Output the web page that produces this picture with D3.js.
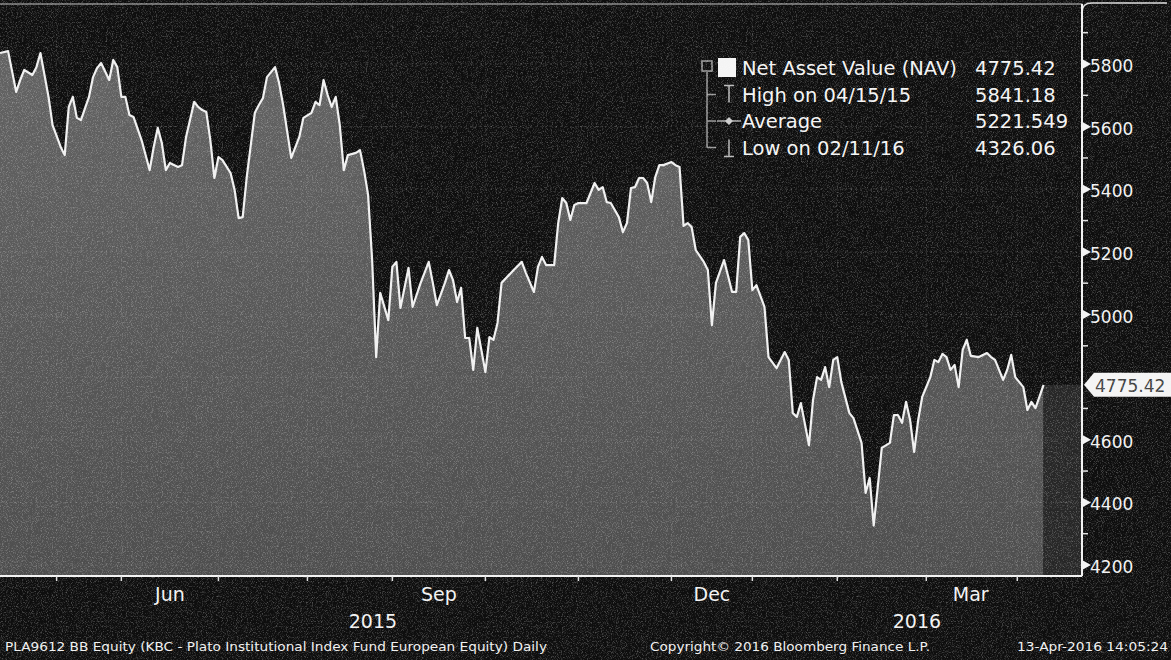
<!DOCTYPE html>
<html><head><meta charset="utf-8">
<script src="https://cdn.jsdelivr.net/npm/d3@7"></script>
<style>
html,body{margin:0;padding:0;background:#101010;}
svg{display:block;}
text{font-family:"DejaVu Sans",sans-serif;}
</style></head><body>
<svg id="c" width="1171" height="660"></svg>
<script>
// ---- data (trading-day index from 13-Apr-2015, NAV) ----
const days = [0,2,4,5,6,8,9,10,12,13,15,16,17,18,19,20,22,23,24,25,27,28,29,30,31,32,33,35,37,38,39,40,41,42,44,45,46,48,49,50,51,52,53,54,55,57,58,59,60,61,63,64,65,66,67,68,69,70,72,74,75,77,78,79,80,81,82,83,84,85,86,88,89,90,91,92,93,94,96,97,98,99,101,102,104,106,107,108,110,111,112,113,114,115,116,117,118,119,120,121,122,123,124,127,129,130,132,133,134,135,137,138,139,140,141,142,143,145,146,147,148,149,150,151,153,154,155,156,157,158,159,160,161,162,163,164,166,167,168,169,170,171,172,174,175,176,177,179,181,182,183,184,185,186,187,189,190,192,194,195,196,197,198,200,201,202,203,204,205,206,207,208,210,211,213,214,215,216,217,218,220,221,222,223,224,225,226,227,228,230,231,232,233,234,235,236,237,238,239,240,242,244,245,246,248,249,250,251,253,254,255,256,258];
const nav = [5835,5841.18,5711,5749,5781,5765,5790,5835,5695,5605,5535,5509,5663,5695,5628,5621,5695,5758,5787,5803,5749,5813,5790,5695,5695,5637,5631,5557,5461,5535,5596,5548,5461,5484,5471,5477,5567,5679,5663,5653,5647,5557,5436,5503,5493,5452,5398,5308,5311,5439,5644,5669,5691,5758,5774,5790,5739,5669,5500,5567,5628,5644,5679,5669,5749,5701,5663,5695,5605,5461,5509,5516,5525,5461,5382,5174,4864,5069,4982,5152,5168,5021,5149,5024,5101,5168,5101,5030,5101,5142,5110,5040,5085,4925,4925,4823,4957,4887,4816,4928,4919,4973,5101,5142,5168,5133,5072,5152,5184,5158,5158,5292,5372,5356,5302,5350,5356,5356,5388,5420,5398,5407,5359,5356,5311,5263,5292,5404,5407,5436,5436,5420,5359,5439,5477,5477,5487,5477,5471,5283,5292,5279,5206,5168,5142,4966,5101,5174,5072,5072,5248,5260,5238,5078,5094,5024,4864,4829,4880,4855,4685,4673,4717,4583,4727,4800,4791,4832,4768,4855,4864,4784,4685,4669,4590,4430,4478,4326.06,4449,4574,4590,4679,4679,4654,4721,4663,4561,4663,4737,4800,4855,4848,4874,4864,4823,4839,4768,4887,4919,4868,4864,4877,4864,4855,4791,4823,4871,4800,4768,4695,4721,4701,4775.42];
const monthTickDays = [14,30,54,76,97,120,143,166,186,207,229,251.5];
const monthLabels = ["Jun","Sep","Dec","Mar"];
const monthLabelDays = [42,108.5,176,240];
const yearLabels = ["2015","2016"];
const yearLabelDays = [92.2,226.7];
const yMajorTicks = [4200,4400,4600,4800,5000,5200,5400,5600,5800];
const yLabelTicks = [4200,4400,4600,5000,5200,5400,5600,5800];
const yMinorTicks = [4300,4500,4700,4900,5100,5300,5500,5700,5900];
const legendLabels = ["Net Asset Value (NAV)","High on 04/15/15","Average","Low on 02/11/16"];
const legendValues = ["4775.42","5841.18","5221.549","4326.06"];
const lastLabel = "4775.42";
const footerLeft = "PLA9612 BB Equity (KBC - Plato Institutional Index Fund European Equity)  Daily";
const footerMid = "Copyright\u00A9 2016 Bloomberg Finance L.P.";
const footerRight = "13-Apr-2016 14:05:24";

// ---- layout ----
const W=1171,H=660, plotL=0, plotR=1082, plotT=4, plotB=576;
const svg=d3.select("#c");
const x=d3.scaleLinear().domain([0,267.5]).range([plotL,plotR]);
const y=d3.scaleLinear().domain([4200,5800]).range([565,64]);
const data=days.map((d,i)=>({d,v:nav[i]}));

const defs=svg.append("defs");
const g=defs.append("linearGradient").attr("id","fillg").attr("gradientUnits","userSpaceOnUse")
  .attr("x1",0).attr("y1",50).attr("x2",0).attr("y2",plotB);
g.append("stop").attr("offset","0").attr("stop-color","#636363");
g.append("stop").attr("offset","1").attr("stop-color","#4e4e4e");
const f=defs.append("filter").attr("id","grain").attr("x",0).attr("y",0).attr("width","100%").attr("height","100%");
f.append("feTurbulence").attr("type","fractalNoise").attr("baseFrequency","1.2").attr("numOctaves","1").attr("seed","3").attr("result","n");
f.append("feColorMatrix").attr("type","matrix").attr("values","0 0 0 0 1  0 0 0 0 1  0 0 0 0 1  3 0 0 0 -1.45");

svg.append("rect").attr("width",W).attr("height",H).attr("fill","#0e0e0e");

// area
const area=d3.area().x(d=>x(d.d)).y0(plotB).y1(d=>y(d.v)).curve(d3.curveLinear);
svg.append("path").datum(data).attr("d",area).attr("fill","url(#fillg)");
// region after last point
const last=data[data.length-1];
svg.append("rect").attr("x",x(last.d)).attr("y",y(last.v)).attr("width",plotR-x(last.d)).attr("height",plotB-y(last.v)).attr("fill","#272727");

// grid
svg.append("g").selectAll("line").data(yMajorTicks).join("line")
  .attr("x1",plotL).attr("x2",plotR).attr("y1",d=>y(d)).attr("y2",d=>y(d))
  .attr("stroke","#9a9a9a").attr("stroke-opacity",0.25).attr("stroke-dasharray","2,3");
svg.append("g").selectAll("line").data(monthTickDays).join("line")
  .attr("x1",d=>x(d)).attr("x2",d=>x(d)).attr("y1",plotT).attr("y2",plotB)
  .attr("stroke","#9a9a9a").attr("stroke-opacity",0.18).attr("stroke-dasharray","2,3");

// line
const line=d3.line().x(d=>x(d.d)).y(d=>y(d.v));
svg.append("path").datum(data).attr("d",line).attr("fill","none").attr("stroke","#f0f0f0").attr("stroke-width",2.2).attr("stroke-linejoin","round");

// top border
svg.append("line").attr("x1",0).attr("x2",plotR).attr("y1",plotT).attr("y2",plotT).attr("stroke","#8a8a8a").attr("stroke-width",1.5);
svg.append("path").attr("d",`M${plotR},${plotT+8} Q${plotR},${plotT-1} ${plotR+10},${plotT-1} L${W-4},${plotT-1}`).attr("fill","none").attr("stroke","#dddddd").attr("stroke-width",1.5);

// y axis
const ya=svg.append("g");
ya.append("line").attr("x1",plotR).attr("x2",plotR).attr("y1",plotT).attr("y2",plotB).attr("stroke","#f2f2f2").attr("stroke-width",2);
ya.selectAll("path.tri").data(yLabelTicks).join("path").attr("class","tri")
  .attr("d",d=>`M${plotR},${y(d)-5} L${plotR+9},${y(d)} L${plotR},${y(d)+5}Z`).attr("fill","#f2f2f2");
ya.selectAll("line.mn").data(yMinorTicks).join("line").attr("class","mn")
  .attr("x1",plotR).attr("x2",plotR+6).attr("y1",d=>y(d)).attr("y2",d=>y(d)).attr("stroke","#e0e0e0").attr("stroke-width",1.5);
ya.selectAll("text").data(yLabelTicks).join("text")
  .attr("x",plotR+8).attr("y",d=>y(d)+2).attr("dy","0.36em").attr("fill","#f2f2f2")
  .attr("font-size",17).text(d=>d);
// last value tag
const ly=y(last.v);
ya.append("path").attr("d",`M${plotR+2},${ly} L${plotR+12},${ly-12} L${W},${ly-12} L${W},${ly+12} L${plotR+12},${ly+12}Z`).attr("fill","#f4f4f4");
ya.append("text").attr("x",plotR+13).attr("y",ly+1).attr("dy","0.36em").attr("fill","#404040").attr("font-size",17).text(lastLabel);

// x axis
const xa=svg.append("g");
xa.append("line").attr("x1",0).attr("x2",plotR).attr("y1",plotB).attr("y2",plotB).attr("stroke","#f2f2f2").attr("stroke-width",2);
xa.selectAll("line.t").data(monthTickDays).join("line").attr("class","t")
  .attr("x1",d=>x(d)).attr("x2",d=>x(d)).attr("y1",plotB).attr("y2",plotB+5).attr("stroke","#dddddd").attr("stroke-width",1.5);
xa.selectAll("text.m").data(monthLabels).join("text").attr("class","m")
  .attr("x",(d,i)=>x(monthLabelDays[i])).attr("y",601).attr("text-anchor","middle").attr("fill","#f2f2f2").attr("font-size",19).text(d=>d);
xa.selectAll("text.yr").data(yearLabels).join("text").attr("class","yr")
  .attr("x",(d,i)=>x(yearLabelDays[i])).attr("y",628).attr("text-anchor","middle").attr("fill","#f2f2f2").attr("font-size",19).text(d=>d);

// legend
const lg=svg.append("g");
const rowY=[68,94.5,121,147.5];
lg.append("line").attr("x1",707).attr("x2",707).attr("y1",72).attr("y2",rowY[3]).attr("stroke","#9a9a9a").attr("stroke-width",1.5);
lg.append("rect").attr("x",702).attr("y",61).attr("width",10).attr("height",10).attr("fill","none").attr("stroke","#9a9a9a").attr("stroke-width",1.5);
lg.selectAll("line.br").data(rowY.slice(1)).join("line").attr("class","br")
  .attr("x1",707).attr("x2",716).attr("y1",d=>d).attr("y2",d=>d).attr("stroke","#9a9a9a").attr("stroke-width",1.5);
lg.append("rect").attr("x",718).attr("y",rowY[0]-10).attr("width",18).attr("height",19).attr("fill","#f4f4f4");
lg.append("path").attr("d",`M724,${rowY[1]-9} L734,${rowY[1]-9} M729,${rowY[1]-9} L729,${rowY[1]+8}`).attr("stroke","#bbbbbb").attr("stroke-width",1.5);
lg.append("path").attr("d",`M717,${rowY[2]} L741,${rowY[2]}`).attr("stroke","#aaaaaa").attr("stroke-width",1.5);
lg.append("path").attr("d",`M729,${rowY[2]-4} L733,${rowY[2]} L729,${rowY[2]+4} L725,${rowY[2]}Z`).attr("fill","#cccccc");
lg.append("path").attr("d",`M729,${rowY[3]-8} L729,${rowY[3]+9} M724,${rowY[3]+9} L734,${rowY[3]+9}`).attr("stroke","#bbbbbb").attr("stroke-width",1.5);
lg.selectAll("text.lab").data(legendLabels).join("text").attr("class","lab")
  .attr("x",742).attr("y",(d,i)=>rowY[i]).attr("dy","0.36em").attr("fill","#f4f4f4").attr("font-size",19.5).text(d=>d);
lg.selectAll("text.val").data(legendValues).join("text").attr("class","val")
  .attr("x",975).attr("y",(d,i)=>rowY[i]).attr("dy","0.36em").attr("fill","#f4f4f4").attr("font-size",19.5).text(d=>d);

// footer
const ft=svg.append("g").attr("fill","#f0f0f0").attr("font-size",13).style("font-family","'DejaVu Sans Condensed','DejaVu Sans',sans-serif");
ft.append("text").attr("x",5).attr("y",651).attr("textLength",542).attr("lengthAdjust","spacingAndGlyphs").text(footerLeft);
ft.append("text").attr("x",650).attr("y",651).attr("textLength",280).attr("lengthAdjust","spacingAndGlyphs").text(footerMid);
ft.append("text").attr("x",1017).attr("y",651).attr("textLength",151).attr("lengthAdjust","spacingAndGlyphs").text(footerRight);

// grain overlay
svg.append("rect").attr("width",W).attr("height",H).attr("filter","url(#grain)").attr("opacity",0.3).style("pointer-events","none");
</script>
</body></html>
